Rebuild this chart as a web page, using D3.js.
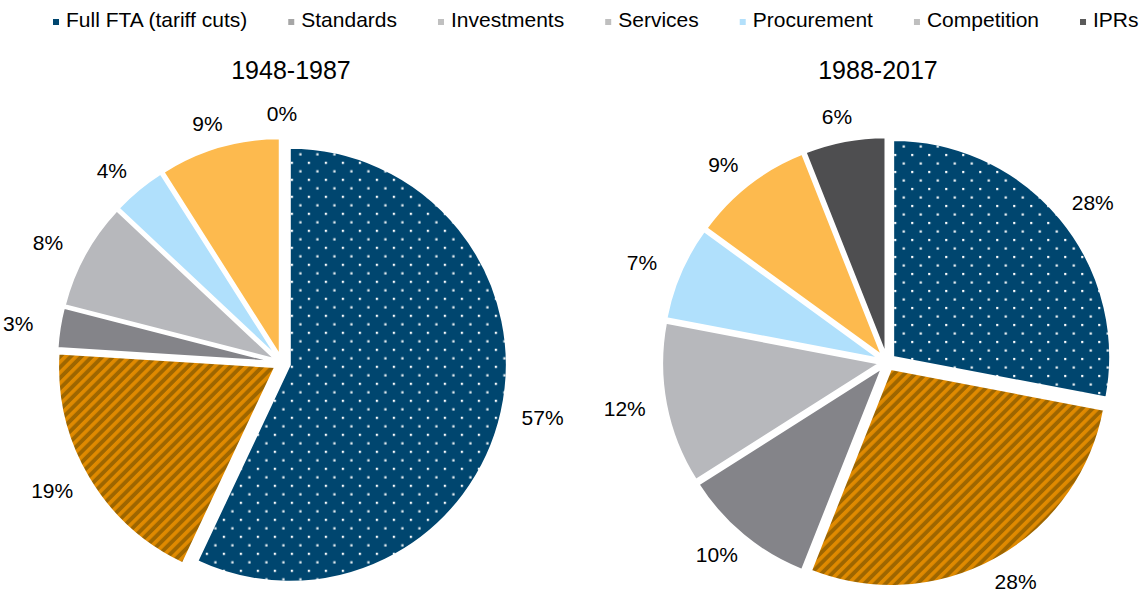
<!DOCTYPE html>
<html>
<head>
<meta charset="utf-8">
<script src="https://cdn.jsdelivr.net/npm/d3@7"></script>
<style>
  body { margin: 0; background: #fff; }
  text { font-family: "Liberation Sans", Arial, sans-serif; fill: #000; }
</style>
</head>
<body>
<svg width="1146" height="596"></svg>
<script>
// data
const categories = ["Full FTA (tariff cuts)", "Standards", "Investments", "Services", "Procurement", "Competition", "IPRs"];
const periods = ["1948-1987", "1988-2017"];
const share1948 = [57, 19, 3, 8, 4, 9, 0];
const share1988 = [28, 28, 10, 12, 7, 9, 6];

const sliceFills = ["url(#dots)", "url(#stripes)", "#848489", "#b7b8bc", "#b0e0fc", "#fdba4e", "#4e4e50"];
const legendColors = ["#00466f", "#a6a6a6", "#c0c0c0", "#bfbfbf", "#b3e0fb", "#bfbfbf", "#5a5a5a"];

let svg = d3.select("svg"),
    width = +svg.attr("width"),
    height = +svg.attr("height");

let defs = svg.append("defs");

// dotted navy fill
let dots = defs.append("pattern")
    .attr("id", "dots")
    .attr("patternUnits", "userSpaceOnUse")
    .attr("width", 17)
    .attr("height", 17);
dots.append("rect").attr("width", 17).attr("height", 17).attr("fill", "#00466f");
dots.append("rect").attr("x", 1).attr("y", 1).attr("width", 2.2).attr("height", 2.2).attr("fill", "#fff");
dots.append("rect").attr("x", 9.5).attr("y", 9.5).attr("width", 2.2).attr("height", 2.2).attr("fill", "#fff");

// orange diagonal stripes
let stripes = defs.append("pattern")
    .attr("id", "stripes")
    .attr("patternUnits", "userSpaceOnUse")
    .attr("width", 7.5)
    .attr("height", 7.5)
    .attr("patternTransform", "rotate(45)");
stripes.append("rect").attr("width", 7.5).attr("height", 7.5).attr("fill", "#9e6600");
stripes.append("rect").attr("width", 3.6).attr("height", 7.5).attr("fill", "#e08a00");

// layout
let radius = 217,
    explode = 8,
    labelRx = 267,
    labelRy = 250;

let panels = [
    {title: periods[0], values: share1948, cx: 282, cy: 363, tx: 291},
    {title: periods[1], values: share1988, cx: 887, cy: 362, tx: 878}
];

let pie = d3.pie().sort(null).startAngle(0).endAngle(2 * Math.PI);
let arc = d3.arc().innerRadius(0).outerRadius(radius);
let fmt = function (v) { return v + "%"; };

panels.forEach(function (p) {
    let g = svg.append("g").attr("transform", "translate(" + p.cx + "," + p.cy + ")");

    let arcs = pie(p.values);

    g.selectAll("path.slice")
        .data(arcs)
        .enter().append("path")
        .attr("class", "slice")
        .attr("d", arc)
        .attr("fill", function (d, i) { return sliceFills[i]; })
        .attr("stroke", "#fff")
        .attr("stroke-width", function (d) { return d.value > 0 ? 2 : 0; })
        .attr("transform", function (d) {
            let a = (d.startAngle + d.endAngle) / 2;
            return "translate(" + (Math.sin(a) * explode) + "," + (-Math.cos(a) * explode) + ")";
        });

    // labels sit outside the end of each slice
    g.selectAll("text.lbl")
        .data(arcs)
        .enter().append("text")
        .attr("class", "lbl")
        .attr("x", function (d) { return Math.sin((d.startAngle + d.endAngle) / 2) * labelRx; })
        .attr("y", function (d) { return -Math.cos((d.startAngle + d.endAngle) / 2) * labelRy; })
        .attr("dy", "0.36em")
        .attr("text-anchor", "middle")
        .style("font-size", "21px")
        .text(function (d) { return fmt(d.value); });

    svg.append("text")
        .attr("x", p.tx)
        .attr("y", 79)
        .attr("text-anchor", "middle")
        .style("font-size", "25px")
        .text(p.title);
});

// legend
let legend = svg.append("g").attr("class", "legend");
let lx = 53;
categories.forEach(function (c, i) {
    legend.append("rect")
        .attr("x", lx)
        .attr("y", 19)
        .attr("width", 6)
        .attr("height", 6)
        .attr("fill", legendColors[i]);
    let t = legend.append("text")
        .attr("x", lx + 13)
        .attr("y", 27)
        .style("font-size", "21px")
        .text(c);
    lx = lx + 13 + t.node().getComputedTextLength() + 41;
});
</script>
</body>
</html>
